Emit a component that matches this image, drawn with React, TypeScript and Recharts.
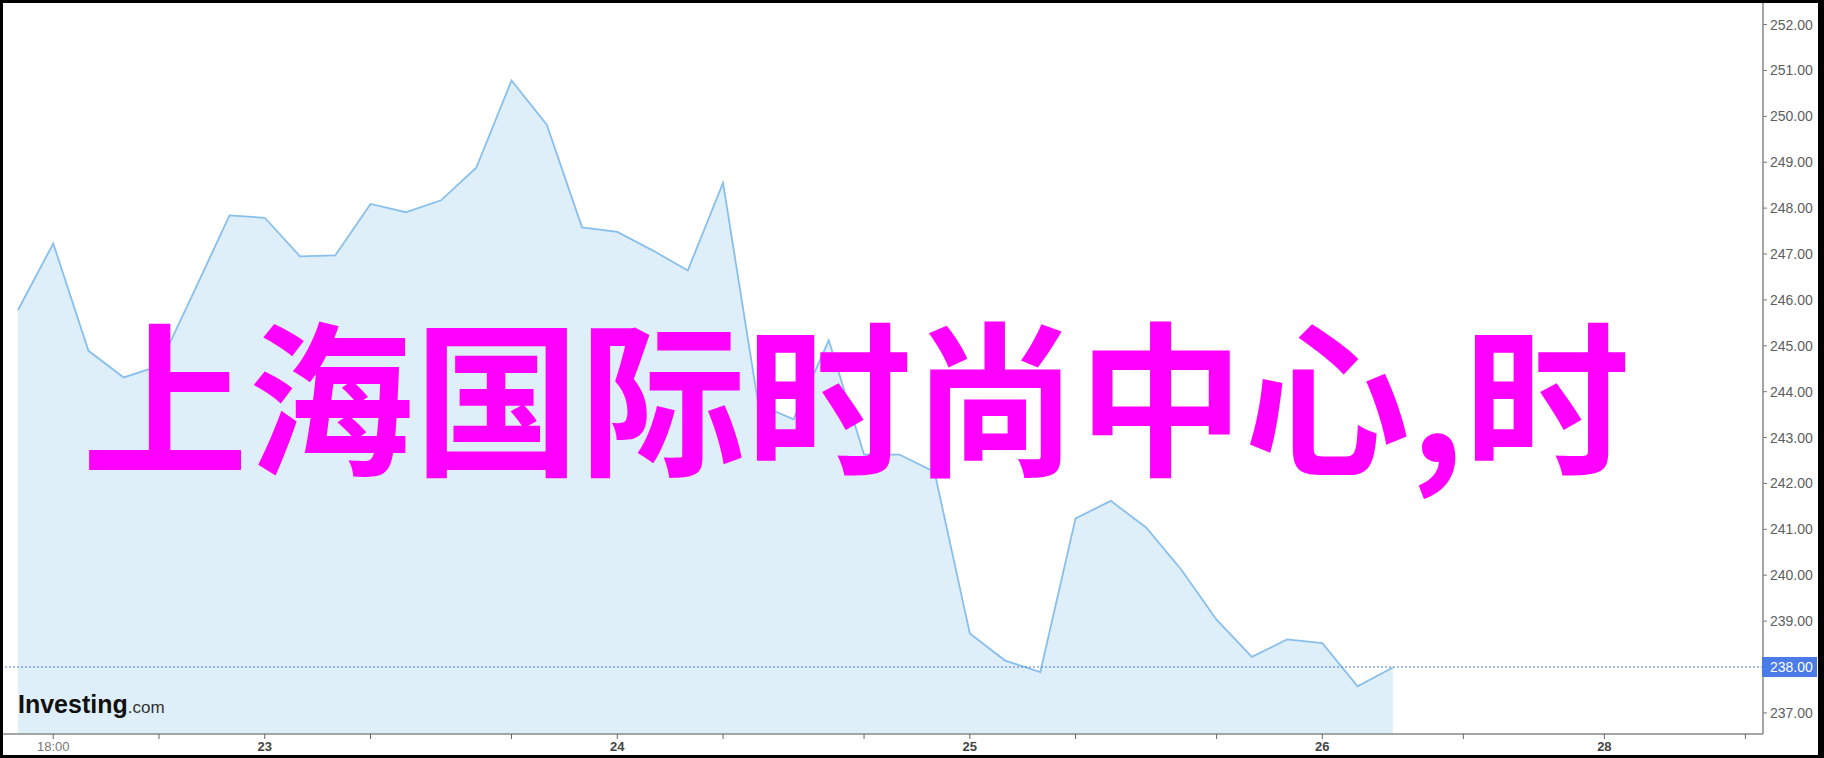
import { ComposedChart, Area, XAxis, YAxis, ReferenceLine } from 'recharts';

// price series, one point per interval
const prices = [
  245.78, 247.23, 244.89, 244.31, 244.56, 246.19, 247.84, 247.79, 246.95, 246.97,
  248.09, 247.91, 248.17, 248.88, 250.78, 249.82, 247.58, 247.48, 247.08, 246.64,
  248.55, 243.73, 243.4, 245.12, 242.63, 242.63, 242.25, 238.73, 238.14, 237.89,
  241.24, 241.62, 241.04, 240.12, 239.03, 238.22, 238.6, 238.52, 237.58, 237.99,
];

const xTickIndex = [1, 4, 7, 10, 14, 17, 20, 24, 27, 30, 34, 37, 41, 45, 49];
const xTickText = ['18:00', '', '23', '', '', '24', '', '', '25', '', '', '26', '', '28', ''];

const yTicks = [237, 238, 239, 240, 241, 242, 243, 244, 245, 246, 247, 248, 249, 250, 251, 252];
const lastPrice = 238;

const title = '上海国际时尚中心,时';

const W = 1824;
const H = 758;
const font = '"Liberation Sans", Arial, sans-serif';

const data = prices.map((price, i) => ({ i, price }));

function XTick(props: any) {
  const { x, y, payload } = props;
  const k = xTickIndex.indexOf(Math.round(payload.value));
  const label = k >= 0 ? xTickText[k] : '';
  const isTime = label.includes(':');
  return (
    <text
      x={x}
      y={y}
      dy="0.71em"
      textAnchor="middle"
      fontSize={13}
      fontFamily={font}
      fontWeight={isTime ? 400 : 700}
      fill={isTime ? '#777' : '#444'}
    >
      {label}
    </text>
  );
}

function YTick(props: any) {
  const { x, y, payload } = props;
  const v = payload.value as number;
  if (v === lastPrice) {
    return (
      <g>
        <rect x={x - 8} y={y - 10} width={55} height={20} fill="#4a7be6" />
        <text x={x} y={y} dy="0.36em" fontSize={14} fontFamily={font} fill="#fff">
          {v.toFixed(2)}
        </text>
      </g>
    );
  }
  return (
    <text x={x} y={y} dy="0.36em" fontSize={14} fontFamily={font} fill="#5e5e5e">
      {v.toFixed(2)}
    </text>
  );
}

export default function App() {
  return (
    <div style={{ position: 'absolute', left: 0, top: 0, width: W, height: H, background: '#000' }}>
      <div style={{ position: 'absolute', left: 3, top: 3, width: 1815, height: 752, background: '#fff' }} />
      <div style={{ position: 'absolute', left: 0, top: 0 }}>
        <ComposedChart width={W} height={H} data={data} margin={{ top: 3, right: 6, bottom: 3, left: 3 }}>
          <XAxis
            dataKey="i"
            type="number"
            domain={[-0.425, 49.5]}
            allowDataOverflow
            ticks={xTickIndex}
            interval={0}
            height={21}
            tickSize={5}
            tickMargin={3}
            stroke="#888"
            strokeWidth={1.5}
            tickLine={{ stroke: '#666', strokeWidth: 1 }}
            tick={<XTick />}
          />
          <YAxis
            orientation="right"
            type="number"
            domain={[236.54, 252.47]}
            allowDataOverflow
            ticks={yTicks}
            interval={0}
            width={55}
            tickSize={4}
            tickMargin={3}
            stroke="#888"
            strokeWidth={1.5}
            tickLine={{ stroke: '#777', strokeWidth: 1 }}
            tick={<YTick />}
          />
          <Area
            type="linear"
            dataKey="price"
            stroke="#88bfec"
            strokeWidth={1.8}
            fill="#dfeff9"
            fillOpacity={1}
            dot={false}
            activeDot={false}
            isAnimationActive={false}
          />
          <ReferenceLine y={lastPrice} stroke="#4a7be6" strokeDasharray="2 2" strokeWidth={1} />
        </ComposedChart>
      </div>
      <svg width={W} height={H} style={{ position: 'absolute', left: 0, top: 0, pointerEvents: 'none' }}>
        <text x={18} y={713} fontSize={25} fontWeight={700} fontFamily={font} fill="#111">
          Investing
          <tspan fontSize={17} fontWeight={400} fill="#333">.com</tspan>
        </text>
        <text x={82} y={463} fontSize={166} fontWeight={700} fontFamily='"Noto Sans CJK SC"' fill="#ff00ff">
          {title}
        </text>
      </svg>
    </div>
  );
}
